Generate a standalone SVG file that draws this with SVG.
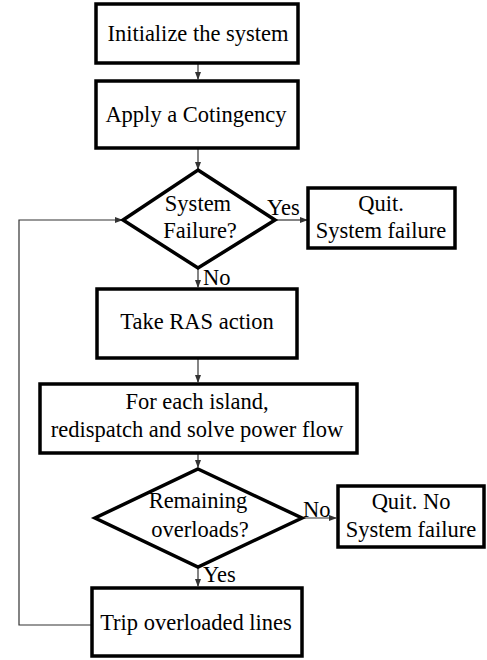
<svg xmlns="http://www.w3.org/2000/svg" width="487" height="660" viewBox="0 0 487 660">
<style>
.box{fill:#fff;stroke:#000;stroke-width:3.5}
.t{font-size:22.5px;fill:#000;text-anchor:middle}
.l{font-size:22.5px;fill:#000}
.c{fill:none;stroke:#333;stroke-width:1.2}
</style>
<defs>
<marker id="a" markerWidth="8" markerHeight="6" refX="7" refY="3" orient="auto" markerUnits="userSpaceOnUse">
<path d="M0,0 L8,3 L0,6 Z" fill="#333"/>
</marker>
</defs>
<rect width="487" height="660" fill="#fff"/>
<g font-family="Liberation Serif, Times New Roman, serif">
<g id="connectors">
<path class="c" d="M198,63 V79" marker-end="url(#a)"/>
<path class="c" d="M198,148 V169" marker-end="url(#a)"/>
<path class="c" d="M275,220 H307" marker-end="url(#a)"/>
<path class="c" d="M198,268 V287" marker-end="url(#a)"/>
<path class="c" d="M198,358 V382" marker-end="url(#a)"/>
<path class="c" d="M198,453 V467" marker-end="url(#a)"/>
<path class="c" d="M302,518 H336" marker-end="url(#a)"/>
<path class="c" d="M198,567 V586" marker-end="url(#a)"/>
<path class="c" d="M91,625 H19 V220 H122" marker-end="url(#a)"/>
<text class="l" x="267" y="215">Yes</text>
<text class="l" x="203" y="285">No</text>
<text class="l" x="303" y="517">No</text>
<text class="l" x="203" y="582">Yes</text>
</g>
<g id="init">
<rect class="box" x="96" y="4" width="202" height="59"/>
<text class="t" x="198" y="41">Initialize the system</text>
</g>
<g id="contingency">
<rect class="box" x="96" y="81" width="202" height="67"/>
<text class="t" x="196" y="122">Apply a Cotingency</text>
</g>
<g id="failure">
<polygon class="box" points="198,170 275,220 198,268 123,220"/>
<text class="t" x="198" y="211">System</text>
<text class="t" x="200" y="238">Failure?</text>
</g>
<g id="quit1">
<rect class="box" x="308" y="188" width="147" height="60"/>
<text class="t" x="381" y="211">Quit.</text>
<text class="t" x="381" y="238">System failure</text>
</g>
<g id="ras">
<rect class="box" x="97" y="289" width="200" height="69"/>
<text class="t" x="197" y="329">Take RAS action</text>
</g>
<g id="redispatch">
<rect class="box" x="40" y="384" width="317" height="69"/>
<text class="t" x="197" y="409">For each island,</text>
<text class="t" x="197" y="437">redispatch and solve power flow</text>
</g>
<g id="overloads">
<polygon class="box" points="198,469 302,518 198,567 95,518"/>
<text class="t" x="198" y="508">Remaining</text>
<text class="t" x="200" y="537">overloads?</text>
</g>
<g id="quit2">
<rect class="box" x="338" y="486" width="146" height="61"/>
<text class="t" x="411" y="509">Quit. No</text>
<text class="t" x="411" y="537">System failure</text>
</g>
<g id="trip">
<rect class="box" x="92" y="588" width="210" height="68"/>
<text class="t" x="196" y="630">Trip overloaded lines</text>
</g>
</g>
</svg>
